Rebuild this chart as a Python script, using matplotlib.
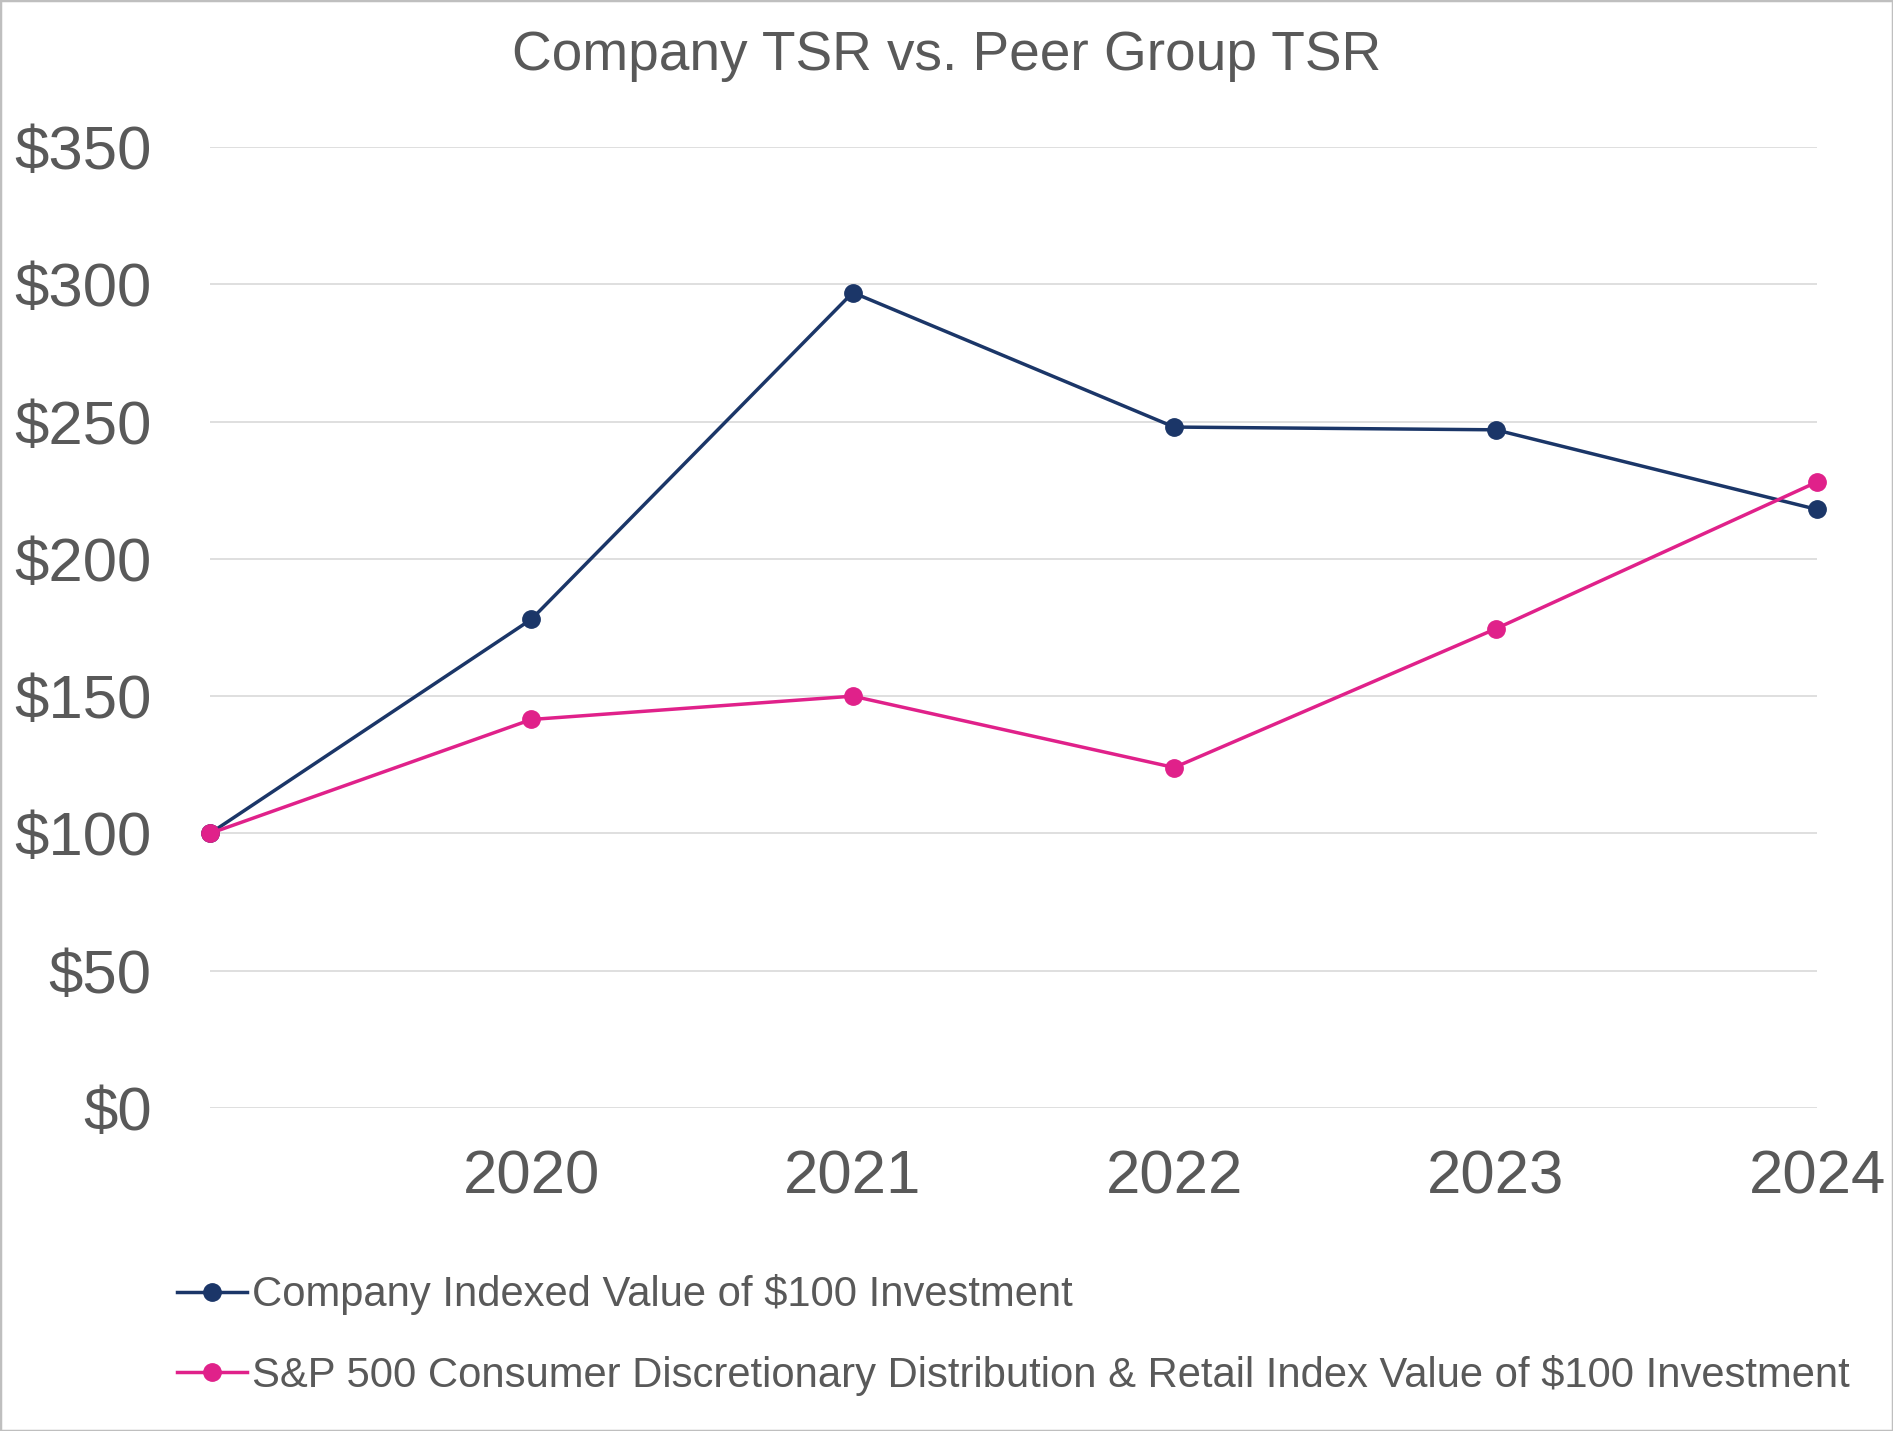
import matplotlib
matplotlib.use("Agg")
import matplotlib.pyplot as plt
from matplotlib import font_manager
from matplotlib.patches import Rectangle

installed = {f.name for f in font_manager.fontManager.ttflist}
main_font = 'Liberation Sans Narrow' if 'Liberation Sans Narrow' in installed else 'Liberation Sans'
plt.rcParams['font.family'] = [main_font, 'DejaVu Sans']

#---Data-----------------------------------------------------------------
years = ["", "2020", "2021", "2022", "2023", "2024"]
company_tsr = [100, 178, 297, 248, 247, 218]
peer_tsr = [100, 141.5, 150, 124, 174.5, 228]
y_ticks = [0, 50, 100, 150, 200, 250, 300, 350]

company_label = "Company Indexed Value of $100 Investment"
peer_label = "S&P 500 Consumer Discretionary Distribution & Retail Index Value of $100 Investment"
title = "Company TSR vs. Peer Group TSR"

navy = "#1B3668"
pink = "#E0218A"
text_grey = "#595959"

#---Figure---------------------------------------------------------------
W, H = 1893, 1431
fig = plt.figure(figsize=(W / 100, H / 100), dpi=100)
renderer = fig.canvas.get_renderer()


def fit_width(txt, target_px):
    """Scale a text's font size so it spans target_px pixels."""
    w = txt.get_window_extent(renderer).width
    txt.set_fontsize(txt.get_fontsize() * target_px / w)


ax = fig.add_axes([210 / W, 1 - 1108 / H, (1817 - 210) / W, (1108 - 147) / H])

x = list(range(len(years)))
ax.plot(x, company_tsr, color=navy, lw=2.5, marker='o', ms=12.5, clip_on=False,
        zorder=3, label=company_label)
ax.plot(x, peer_tsr, color=pink, lw=2.5, marker='o', ms=12.5, clip_on=False,
        zorder=4, label=peer_label)

ax.set_xlim(0, len(years) - 1)
ax.set_ylim(0, 350)
ax.set_yticks(y_ticks)
ax.set_yticklabels([f"${v}" for v in y_ticks])
ax.set_xticks(x)
ax.set_xticklabels(years)

ax.grid(axis='y', color='#D9D9D9', lw=1.2, zorder=0)
for s in ax.spines.values():
    s.set_visible(False)
ax.tick_params(axis='both', length=0, labelcolor=text_grey, labelsize=44.5)
ax.tick_params(axis='y', pad=42)
ax.tick_params(axis='x', pad=30)

t = fig.text(0.5, 1 - 56 / H, title, ha='center', va='center', fontsize=40,
             color=text_grey)
fit_width(t, 868)

# legend: size the long entry to the reference width
probe = fig.text(0, 0, peer_label, fontsize=30)
fit_width(probe, 1594)
leg_size = probe.get_fontsize()
probe.remove()

leg = ax.legend(loc='center left', bbox_to_anchor=(177 / W, 1 - 1335 / H),
                bbox_transform=fig.transFigure, frameon=False, fontsize=leg_size,
                handlelength=70 / (leg_size * 100 / 72), handletextpad=0.12,
                labelspacing=81 / (leg_size * 100 / 72) - 1.0,
                borderaxespad=0, borderpad=0)
for txt in leg.get_texts():
    txt.set_color(text_grey)

fig.patches.append(Rectangle((0, 0), 1, 1, transform=fig.transFigure,
                             fill=False, edgecolor='#BFBFBF', lw=2.5))

fig.savefig("out.png", dpi=100, facecolor='white')
